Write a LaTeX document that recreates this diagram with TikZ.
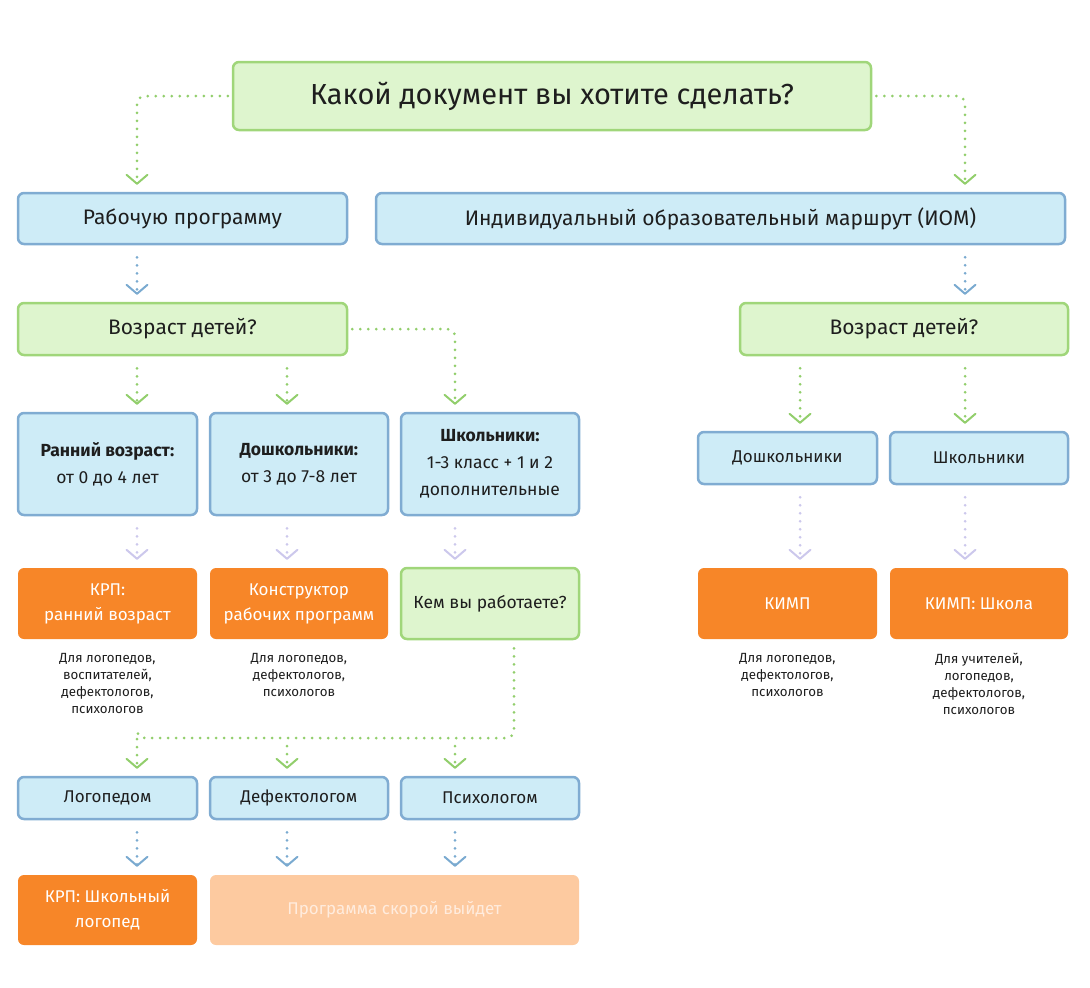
\documentclass[tikz,border=0pt]{standalone}
\usepackage{fontspec}
\setmainfont{Fira Sans}
\usepackage{tikz}
\usetikzlibrary{arrows.meta}
\usetikzlibrary{positioning}
\definecolor{qfill}{RGB}{222,245,206}
\definecolor{qline}{RGB}{160,214,122}
\definecolor{bfill}{RGB}{206,236,247}
\definecolor{bline}{RGB}{128,172,210}
\definecolor{prodfill}{RGB}{247,134,40}
\definecolor{softfill}{RGB}{253,202,160}
\definecolor{softtext}{RGB}{255,236,222}
\definecolor{garrowcol}{RGB}{146,206,108}
\definecolor{barrowcol}{RGB}{122,170,208}
\definecolor{larrowcol}{RGB}{204,200,236}
\definecolor{mytextcolor}{RGB}{30,30,30}

\begin{document}
\begin{tikzpicture}[x=1pt,y=-1pt,
  box/.style={rectangle, rounded corners=6pt, line width=2.5pt, inner sep=2pt,
    align=center, text=mytextcolor, font=\fontsize{17}{25}\selectfont},
  qbox/.style={box, fill=qfill, draw=qline},
  bbox/.style={box, fill=bfill, draw=bline},
  pbox/.style={box, fill=prodfill, draw=none, text=white},
  sbox/.style={box, fill=softfill, draw=none, text=softtext},
  big/.style={font=\fontsize{21}{25}\selectfont},
  age/.style={font=\fontsize{17.5}{27}\selectfont},
  note/.style={align=center, anchor=north, text=mytextcolor, font=\fontsize{13.3}{17}\selectfont},
  dots/.style={line width=3pt, line cap=round, dash pattern=on 0pt off 8pt, rounded corners=8pt},
  tip/.style={-{Straight Barb[length=9pt, width=21pt, line width=2pt, round]}},
  garrow/.style={dots, tip, draw=garrowcol, shorten >=7pt},
  barrow/.style={dots, tip, draw=barrowcol, shorten <=12pt, shorten >=7pt},
  larrow/.style={dots, tip, draw=larrowcol, shorten <=12pt, shorten >=7pt},
  gline/.style={dots, draw=garrowcol}]
\useasboundingbox (0,0) rectangle (1090,988);

% columns of the connectors
\coordinate (c1) at (137,0);
\coordinate (c2) at (287,0);
\coordinate (c3) at (455,0);
\coordinate (c4) at (800,0);
\coordinate (c5) at (965,0);
\coordinate (c6) at (514,0);
\coordinate (bus) at (0,738);

\node[qbox, minimum width=638pt, minimum height=68pt, font=\fontsize{29}{32}\selectfont] (title) at (552,96) {Какой документ вы хотите сделать?};

\node[bbox, big, minimum width=329pt, minimum height=51pt] (rab) at (182.5,218.5) {Рабочую программу};
\node[bbox, big, minimum width=689pt, minimum height=51pt] (iom) at (720.5,218.5) {Индивидуальный образовательный маршрут (ИОМ)};

\node[qbox, big, minimum width=329pt, minimum height=52pt] (vozL) at (182.5,329) {Возраст детей?};
\node[qbox, big, minimum width=328pt, minimum height=52pt] (vozR) at (904,329) {Возраст детей?};

\node[bbox, age, minimum width=179pt, minimum height=102pt] (early) at (107.5,464) {\textbf{Ранний возраст:}\\от 0 до 4 лет};
\node[bbox, age, minimum width=178pt, minimum height=102pt] (presch) at (299,464) {\textbf{Дошкольники:}\\от 3 до 7-8 лет};
\node[bbox, age, minimum width=178pt, minimum height=102pt] (school) at (490,464) {\textbf{Школьники:}\\1-3 класс + 1 и 2\\дополнительные};

\node[bbox, minimum width=179pt, minimum height=52pt] (preschR) at (787.5,458) {Дошкольники};
\node[bbox, minimum width=178pt, minimum height=52pt] (schoolR) at (979,458) {Школьники};

\node[pbox, minimum width=179pt, minimum height=71pt] (krp) at (107.5,603.5) {КРП:\\ранний возраст};
\node[pbox, minimum width=178pt, minimum height=71pt] (constr) at (299,603.5) {Конструктор\\рабочих программ};
\node[qbox, age, minimum width=178pt, minimum height=71pt] (who) at (490,603.5) {Кем вы работаете?};
\node[pbox, minimum width=179pt, minimum height=71pt] (kimp) at (787.5,603.5) {КИМП};
\node[pbox, minimum width=178pt, minimum height=71pt] (kimps) at (979,603.5) {КИМП: Школа};

\node[note] (krpnote) at (107.5,650) {Для логопедов,\\воспитателей,\\дефектологов,\\психологов};
\node[note] (constrnote) at (299,650) {Для логопедов,\\дефектологов,\\психологов};
\node[note] (kimpnote) at (787.5,650) {Для логопедов,\\дефектологов,\\психологов};
\node[note] (kimpsnote) at (979,650) {Для учителей,\\логопедов,\\дефектологов,\\психологов};

\node[bbox, minimum width=179pt, minimum height=42pt] (logo) at (107.5,798) {Логопедом};
\node[bbox, minimum width=178pt, minimum height=42pt] (defe) at (299,798) {Дефектологом};
\node[bbox, minimum width=178pt, minimum height=42pt] (psy) at (490,798) {Психологом};

\node[pbox, minimum width=179pt, minimum height=70pt] (krpsch) at (107.5,910) {КРП: Школьный\\логопед};
\node[sbox, minimum width=369pt, minimum height=70pt] (soon) at (394.5,910) {Программа скорой выйдет};

% first question
\draw[garrow, shorten <=4pt] (title.west) -| (rab.north -| c1);
\draw[garrow, shorten <=4pt] (title.east) -| (iom.north -| c5);
\draw[barrow] (rab.south -| c1) -- (vozL.north -| c1);
\draw[barrow] (iom.south -| c5) -- (vozR.north -| c5);

% age, left
\draw[garrow, shorten <=12pt] (vozL.south -| c1) -- (early.north -| c1);
\draw[garrow, shorten <=12pt] (vozL.south -| c2) -- (presch.north -| c2);
\draw[garrow, shorten <=4pt] (vozL.east) -| (school.north -| c3);
\draw[larrow] (early.south -| c1) -- (krp.north -| c1);
\draw[larrow] (presch.south -| c2) -- (constr.north -| c2);
\draw[larrow] (school.south -| c3) -- (who.north -| c3);

% age, right
\draw[garrow, shorten <=12pt] (vozR.south -| c4) -- (preschR.north -| c4);
\draw[garrow, shorten <=12pt] (vozR.south -| c5) -- (schoolR.north -| c5);
\draw[larrow] (preschR.south -| c4) -- (kimp.north -| c4);
\draw[larrow] (schoolR.south -| c5) -- (kimps.north -| c5);

% who are you
\draw[gline, shorten <=8pt] (who.south -| c6) -- (c6 |- bus) -- (c1 |- bus) -- ([yshift=10pt]c1 |- bus);
\draw[garrow] ([yshift=-1pt]c1 |- bus) -- (logo.north -| c1);
\draw[garrow, shorten <=8pt] (c2 |- bus) -- (defe.north -| c2);
\draw[garrow, shorten <=8pt] (c3 |- bus) -- (psy.north -| c3);
\draw[barrow] (logo.south -| c1) -- (krpsch.north -| c1);
\draw[barrow] (defe.south -| c2) -- (soon.north -| c2);
\draw[barrow] (psy.south -| c3) -- (soon.north -| c3);
\end{tikzpicture}
\end{document}
